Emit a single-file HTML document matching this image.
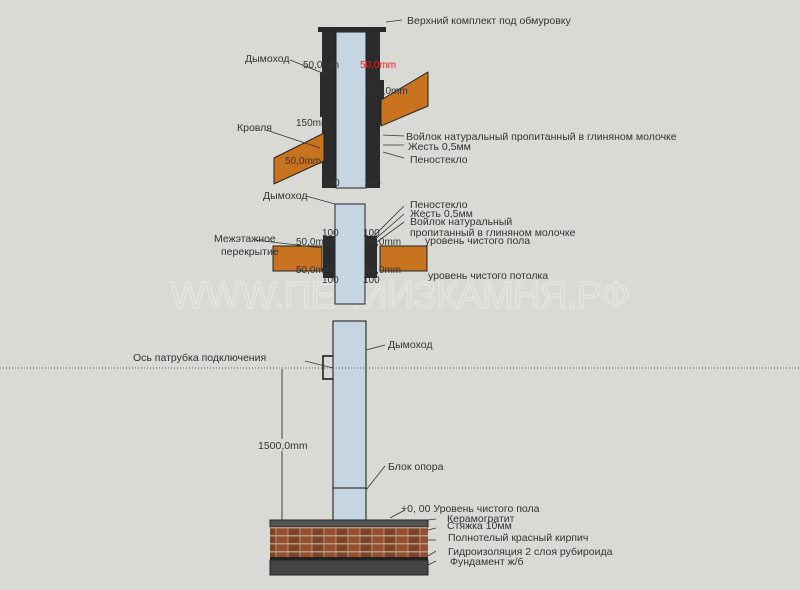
<!DOCTYPE html>
<html><head><meta charset="utf-8"><style>
body{margin:0;background:#d9dad5}
svg{display:block}
text{font-family:"Liberation Sans",sans-serif;font-size:10.5px;fill:#333}
</style></head><body>
<svg width="800" height="590" viewBox="0 0 800 590" xmlns="http://www.w3.org/2000/svg">
<defs>
<pattern id="br" width="24" height="8" patternUnits="userSpaceOnUse">
<rect width="24" height="8" fill="#b89a80"/>
<rect x="0.5" y="0.5" width="11" height="6.5" fill="#7e4228"/>
<rect x="12.5" y="0.5" width="11" height="6.5" fill="#94502f"/>
</pattern>
</defs>
<rect width="800" height="590" fill="#d9dad5"/>
<text x="400" y="308" text-anchor="middle" textLength="460" style="font-size:38px;fill:none;stroke:#e6e7e3;stroke-width:1.2">WWW.ПЕЧИИЗКАМНЯ.РФ</text>
<!-- top chimney -->
<rect x="318" y="27" width="68" height="5" fill="#2a2a2a"/>
<rect x="322" y="32" width="14" height="156" fill="#2b2b2b"/>
<rect x="366" y="32" width="14" height="156" fill="#2b2b2b"/>
<rect x="320" y="72" width="4" height="45" fill="#2b2b2b"/>
<rect x="380" y="80" width="4" height="45" fill="#2b2b2b"/>
<rect x="336" y="32" width="30" height="156" fill="#c5d5e2" stroke="#222"/>
<polygon points="381,100 428,72 428,106 381,126" fill="#c8731f" stroke="#222"/>
<polygon points="274,158 324,133 324,161 274,184" fill="#c8731f" stroke="#222"/>
<!-- middle -->
<rect x="335" y="204" width="30" height="100" fill="#c5d5e2" stroke="#222"/>
<rect x="323" y="236" width="12" height="42" fill="#2b2b2b"/>
<rect x="365" y="236" width="12" height="42" fill="#2b2b2b"/>
<rect x="273" y="246" width="49" height="25" fill="#c8731f" stroke="#222"/>
<rect x="380" y="246" width="47" height="25" fill="#c8731f" stroke="#222"/>
<!-- bottom -->
<rect x="333" y="321" width="33" height="199" fill="#c5d5e2" stroke="#111"/>
<line x1="333" y1="488" x2="366" y2="488" stroke="#111"/>
<polyline points="333,356 323,356 323,379 333,379" fill="none" stroke="#111" stroke-width="1.5"/>
<line x1="0" y1="368" x2="800" y2="368" stroke="#555" stroke-dasharray="1,2"/>
<line x1="282" y1="369" x2="282" y2="520" stroke="#444"/>
<rect x="258" y="439" width="50" height="12" fill="#d9dad5"/>
<text x="258" y="449">1500,0mm</text>
<!-- floor -->
<rect x="270" y="520" width="158" height="7" fill="#555" stroke="#222"/>
<rect x="270" y="527" width="158" height="30" fill="url(#br)"/>
<rect x="270" y="557" width="158" height="3" fill="#222"/>
<rect x="270" y="560" width="158" height="15" fill="#454545" stroke="#222"/>
<!-- labels -->
<g stroke="#333" fill="none" stroke-width="0.8">
<path d="M386,22 L402,20"/><path d="M290,60 L335,78"/><path d="M266,130 L320,148"/>
<path d="M383,135 L404,136"/><path d="M383,145 L404,145"/><path d="M383,152 L404,158"/>
<path d="M306,196 L335,204"/><path d="M255,240 L322,248"/><path d="M370,240 L404,206"/><path d="M372,242 L404,214"/><path d="M374,244 L404,222"/>
<path d="M305,361 L333,368"/><path d="M366,350 L385,345"/><path d="M366,490 L385,466"/>
<path d="M390,518 L405,510"/><path d="M428,520 L436,519"/><path d="M428,530 L436,528"/><path d="M428,540 L436,540"/><path d="M428,556 L436,551"/><path d="M428,565 L436,561"/>
</g>
<text x="407" y="24">Верхний комплект под обмуровку</text>
<text x="245" y="62">Дымоход</text>
<text x="303" y="68" style="font-size:10px">50,0mm</text>
<text x="360" y="68" style="font-size:10px;fill:#e22">50,0mm</text>
<text x="366" y="94" style="font-size:10px">150,0mm</text>
<text x="296" y="126" style="font-size:10px">150mm</text>
<text x="237" y="131">Кровля</text>
<text x="285" y="164" style="font-size:10px">50,0mm</text>
<text x="406" y="140">Войлок натуральный пропитанный в глиняном молочке</text>
<text x="408" y="150">Жесть 0,5мм</text>
<text x="410" y="163">Пеностекло</text>
<text x="323" y="186" style="font-size:10px">100</text>
<text x="364" y="186" style="font-size:10px">100</text>
<text x="263" y="199">Дымоход</text>
<text x="410" y="208">Пеностекло</text>
<text x="410" y="217">Жесть 0,5мм</text>
<text x="410" y="225">Войлок натуральный</text>
<text x="410" y="236">пропитанный в глиняном молочке</text>
<text x="214" y="242">Межэтажное</text>
<text x="221" y="255">перекрытие</text>
<text x="296" y="245" style="font-size:10px">50,0mm</text>
<text x="365" y="245" style="font-size:10px">50,0mm</text>
<text x="425" y="244">уровень чистого пола</text>
<text x="296" y="273" style="font-size:10px">50,0mm</text>
<text x="365" y="273" style="font-size:10px">50,0mm</text>
<text x="428" y="279">уровень чистого потолка</text>
<text x="322" y="236" style="font-size:10px">100</text>
<text x="363" y="236" style="font-size:10px">100</text>
<text x="322" y="283" style="font-size:10px">100</text>
<text x="363" y="283" style="font-size:10px">100</text>
<text x="133" y="361">Ось патрубка подключения</text>
<text x="388" y="348">Дымоход</text>
<text x="388" y="470">Блок опора</text>
<text x="401" y="512">+0, 00 Уровень чистого пола</text>
<text x="447" y="522">Керамогратит</text>
<text x="447" y="529">Стяжка 10мм</text>
<text x="448" y="541">Полнотелый красный кирпич</text>
<text x="448" y="555">Гидроизоляция 2 слоя рубироида</text>
<text x="450" y="565">Фундамент ж/б</text>
</svg>
</body></html>
